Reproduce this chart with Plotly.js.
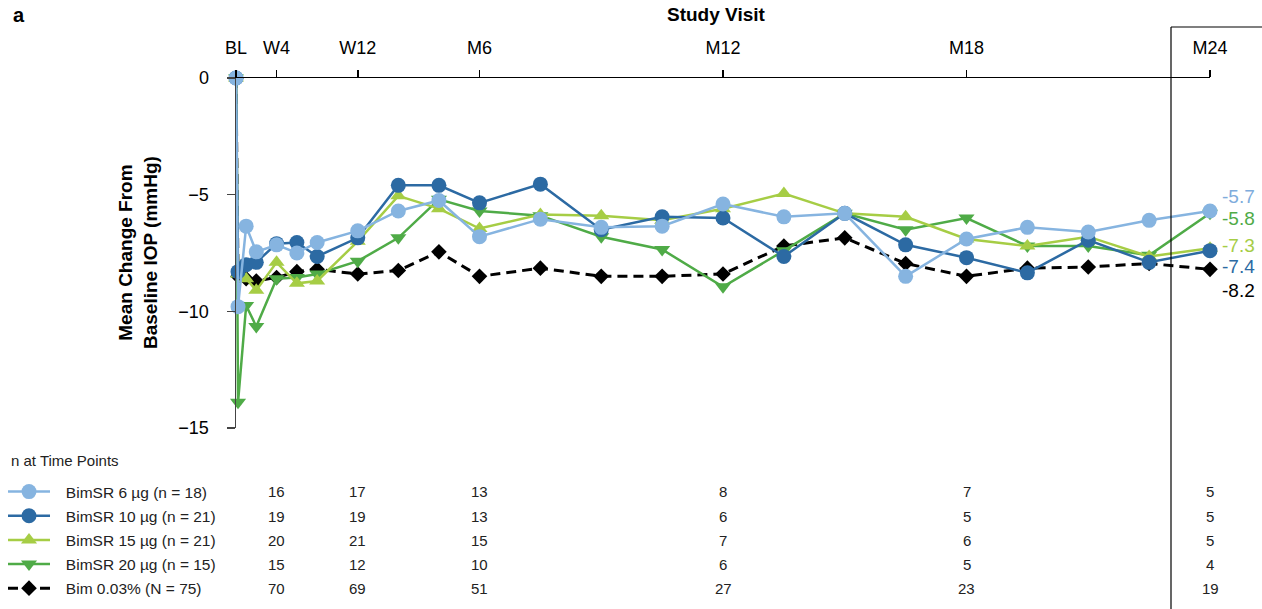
<!DOCTYPE html>
<html>
<head>
<meta charset="utf-8">
<script src="https://cdn.plot.ly/plotly-3.0.1.min.js"></script>
<style>
  html, body { margin: 0; padding: 0; background: #fff; }
  #chart { width: 1262px; height: 609px; }
</style>
</head>
<body>
<div id="chart"></div>
<script>
// Study visit times in months (BL = 0, early visits counted as 4 weeks = 1 month)
const visitMonths = [0, 0.05, 0.25, 0.5, 1, 1.5, 2, 3, 4, 5, 6, 7.5, 9, 10.5, 12, 13.5, 15, 16.5, 18, 19.5, 21, 22.5, 24];

// Visit tick labels on the top axis
const tickMonths = [0, 1, 3, 6, 12, 18, 24];
const tickLabels = ['BL', 'W4', 'W12', 'M6', 'M12', 'M18', 'M24'];

// Mean change from baseline IOP (mmHg) per arm
const bimSR6  = [0, -9.8, -6.35, -7.45, -7.15, -7.5, -7.05, -6.55, -5.7, -5.25, -6.8, -6.05, -6.4, -6.35, -5.4, -5.95, -5.8, -8.5, -6.9, -6.4, -6.6, -6.1, -5.7];
const bimSR10 = [0, -8.3, -8.0, -7.9, -7.1, -7.05, -7.65, -6.85, -4.6, -4.6, -5.35, -4.55, -6.5, -5.95, -6.0, -7.65, -5.8, -7.15, -7.7, -8.35, -6.95, -7.9, -7.4];
const bimSR15 = [0, -8.4, -8.6, -9.1, -7.9, -8.8, -8.7, -7.0, -5.05, -5.6, -6.45, -5.85, -5.9, -6.1, -5.6, -4.95, -5.8, -5.95, -6.9, -7.2, -6.8, -7.65, -7.3];
const bimSR20 = [0, -13.9, -9.75, -10.65, -8.6, -8.55, -8.4, -7.85, -6.85, -5.2, -5.7, -5.9, -6.8, -7.35, -8.95, -7.4, -5.8, -6.5, -6.0, -7.2, -7.2, -7.6, -5.8];
const bim003  = [0, -8.5, -8.6, -8.7, -8.55, -8.3, -8.2, -8.4, -8.25, -7.45, -8.5, -8.15, -8.5, -8.5, -8.4, -7.2, -6.85, -7.95, -8.5, -8.15, -8.1, -7.95, -8.2];

// Arm names
const armNames = ['BimSR 6 µg (n = 18)', 'BimSR 10 µg (n = 21)', 'BimSR 15 µg (n = 21)', 'BimSR 20 µg (n = 15)', 'Bim 0.03% (N = 75)'];

// Patients at each labelled time point (W4, W12, M6, M12, M18, M24)
const nMonths = [1, 3, 6, 12, 18, 24];
const nBimSR6  = [16, 17, 13, 8, 7, 5];
const nBimSR10 = [19, 19, 13, 6, 5, 5];
const nBimSR15 = [20, 21, 15, 7, 6, 5];
const nBimSR20 = [15, 12, 10, 6, 5, 4];
const nBim003  = [70, 69, 51, 27, 23, 19];

// ---- styling ----
const FONT = 'Liberation Sans, Arial, Helvetica, sans-serif';
const C6 = '#86b4e0', C10 = '#2c6aa3', C15 = '#a6cd45', C20 = '#4fab47', CB = '#000000';

const W = 1262, H = 609;
const M = { l: 236, r: 52, t: 78, b: 181, autoexpand: false };
const PW = W - M.l - M.r, PH = H - M.t - M.b;
const px = x => (x - M.l) / PW;          // pixel x -> paper x
const py = y => (M.t + PH - y) / PH;     // pixel y -> paper y

function arm(name, y, color, symbol, size, rank, dash) {
  return {
    type: 'scatter', mode: 'lines+markers', name: '\u2002\u2009' + name,
    x: visitMonths, y: y,
    line: { color: color, width: dash ? 3 : 2.5, dash: dash || 'solid' },
    marker: { color: color, symbol: symbol, size: size },
    cliponaxis: false, legendrank: rank, legendgroup: 'g' + rank
  };
}

const traces = [
  arm(armNames[4], bim003, CB, 'diamond', 12, 5, '10px,6px'),
  arm(armNames[3], bimSR20, C20, 'triangle-down', 14, 4),
  arm(armNames[2], bimSR15, C15, 'triangle-up', 14, 3),
  arm(armNames[1], bimSR10, C10, 'circle', 15, 2),
  arm(armNames[0], bimSR6, C6, 'circle', 15, 1)
];

const annotations = [];
// panel letter and axis titles
annotations.push({ xref: 'paper', yref: 'paper', x: px(11), y: py(15), xanchor: 'left', yanchor: 'middle',
  text: '<b>a</b>', showarrow: false, font: { family: FONT, size: 20, color: '#000' } });
annotations.push({ xref: 'paper', yref: 'paper', x: px(716), y: py(14), xanchor: 'center', yanchor: 'middle',
  text: '<b>Study Visit</b>', showarrow: false, font: { family: FONT, size: 19, color: '#000' } });
annotations.push({ xref: 'paper', yref: 'paper', x: px(138), y: 0.5, xanchor: 'center', yanchor: 'middle',
  textangle: -90, text: '<b>Mean Change From<br>Baseline IOP (mmHg)</b>', showarrow: false,
  font: { family: FONT, size: 19, color: '#000' } });

// end-of-study value labels
const endSeries = [
  { y: bimSR6, color: '#7eacdc', shift: 15 },
  { y: bimSR20, color: C20, shift: -5 },
  { y: bimSR15, color: C15, shift: 3 },
  { y: bimSR10, color: C10, shift: -16 },
  { y: bim003, color: CB, shift: -21 }
];
endSeries.forEach(s => {
  const v = s.y[s.y.length - 1];
  annotations.push({ xref: 'x', yref: 'y', x: visitMonths[visitMonths.length - 1], y: v,
    xanchor: 'left', yanchor: 'middle', xshift: 10, yshift: s.shift,
    text: v.toFixed(1), showarrow: false, font: { family: FONT, size: 19, color: s.color } });
});

// n-at-time-points table
annotations.push({ xref: 'paper', yref: 'paper', x: px(9), y: py(460), xanchor: 'left', yanchor: 'middle',
  text: 'n at Time Points', showarrow: false, font: { family: FONT, size: 15, color: '#222' } });
const nRows = [nBimSR6, nBimSR10, nBimSR15, nBimSR20, nBim003];
const rowY = [491.7, 516, 540, 564, 588.3];
nRows.forEach((row, r) => {
  row.forEach((n, c) => {
    annotations.push({ xref: 'x', yref: 'paper', x: nMonths[c], y: py(rowY[r]),
      xanchor: 'center', yanchor: 'middle', text: String(n), showarrow: false,
      font: { family: FONT, size: 15, color: '#222' } });
  });
});

const shapes = [
  { type: 'line', xref: 'paper', yref: 'paper', x0: px(1171), x1: px(1171), y0: py(27), y1: py(612),
    line: { color: '#000', width: 1.2 } },
  { type: 'line', xref: 'paper', yref: 'paper', x0: px(1171), x1: px(1265), y0: py(27), y1: py(27),
    line: { color: '#000', width: 1.2 } }
];

const layout = {
  width: W, height: H,
  margin: M,
  paper_bgcolor: '#fff', plot_bgcolor: '#fff',
  font: { family: FONT, color: '#000' },
  showlegend: true,
  legend: {
    x: px(3), y: py(475), xanchor: 'left', yanchor: 'top',
    font: { family: FONT, size: 15.5, color: '#222' },
    traceorder: 'grouped', tracegroupgap: 1, itemwidth: 42,
    bgcolor: 'rgba(0,0,0,0)'
  },
  xaxis: {
    side: 'top', range: [0, 24], showgrid: false, zeroline: false,
    showline: true, linecolor: '#000', linewidth: 1.5,
    tickmode: 'array', tickvals: tickMonths, ticktext: tickLabels,
    ticks: 'outside', ticklen: 7, tickwidth: 1.5, tickcolor: '#000',
    ticklabelstandoff: 8,
    tickfont: { family: FONT, size: 18, color: '#000' }
  },
  yaxis: {
    range: [-15, 0], showgrid: false, zeroline: false,
    showline: true, linecolor: '#444', linewidth: 1.5,
    tickmode: 'array', tickvals: [0, -5, -10, -15],
    ticks: 'outside', ticklen: 8, tickwidth: 1.5, tickcolor: '#444',
    ticklabelstandoff: 14,
    tickfont: { family: FONT, size: 18, color: '#000' }
  },
  annotations: annotations,
  shapes: shapes
};

Plotly.newPlot('chart', traces, layout, { staticPlot: true, displayModeBar: false });
</script>
</body>
</html>
